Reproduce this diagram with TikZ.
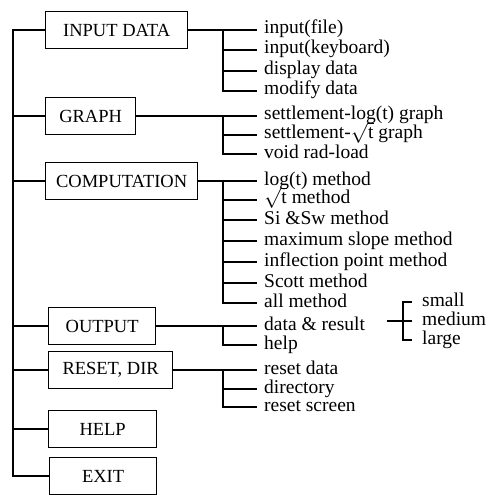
\documentclass[tikz,border=0pt]{standalone}
\usepackage{fontspec}
\setmainfont{Liberation Serif}
\usepackage{tikz}
\tikzstyle{menu} = [draw, line width=1.3pt, minimum height=37pt, anchor=west, inner xsep=0pt]
\tikzstyle{item} = [anchor=west, inner xsep=7pt, inner ysep=0pt, text height=12pt, text depth=4pt, font=\fontsize{19.5}{20}\selectfont]
\tikzstyle{line} = [draw, line width=1.2pt]
\begin{document}
\begin{tikzpicture}[x=1pt, y=-1pt, every node/.style={font=\fontsize{18.5}{20}\selectfont}]
		            \useasboundingbox (0,0) rectangle (496,495);
		                \node [menu, minimum width=142pt] (input) at (45,30) {INPUT DATA};
		                \node [menu, minimum width=90pt] (graph) at (45,116) {GRAPH};
		                \node [menu, minimum width=152pt] (comp) at (45,181) {COMPUTATION};
		                \node [menu, minimum width=107pt] (output) at (48,326) {OUTPUT};
		                \node [menu, minimum width=124pt] (reset) at (48,370) {RESET, DIR};
		                \node [menu, minimum width=108pt] (help) at (48,429) {HELP};
		                \node [menu, minimum width=107pt] (exit) at (49,476) {EXIT};
		                \node [item] (in1) at (257,30) {input(file)};
		                \node [item] (in2) at (257,50) {input(keyboard)};
		                \node [item] (in3) at (257,71) {display data};
		                \node [item] (in4) at (257,91) {modify data};
		                \node [item] (gr1) at (257,116) {settlement-log(t) graph};
		                \node [item] (gr2) at (257,135) {settlement-$\sqrt{\mbox{t}}$ graph};
		                \node [item] (gr3) at (257,154) {void rad-load};
		                \node [item] (co1) at (257,181) {log(t) method};
		                \node [item] (co2) at (257,200) {$\sqrt{\mbox{t}}$ method};
		                \node [item] (co3) at (257,220) {Si \&Sw method};
		                \node [item] (co4) at (257,241) {maximum slope method};
		                \node [item] (co5) at (257,262) {inflection point method};
		                \node [item] (co6) at (257,283) {Scott method};
		                \node [item] (co7) at (257,303) {all method};
		                \node [item] (ou1) at (257,326) {data \& result};
		                \node [item] (ou2) at (257,345) {help};
		                \node [item] (re1) at (257,370) {reset data};
		                \node [item] (re2) at (257,389) {directory};
		                \node [item] (re3) at (257,407) {reset screen};
		                \node [item, inner xsep=10pt] (sm) at (412,302) {small};
		                \node [item, inner xsep=10pt] (md) at (412,321) {medium};
		                \node [item, inner xsep=10pt] (lg) at (412,340) {large};
		                \coordinate (trunk) at (13,0);
		                \coordinate (sub) at (223,0);
		                \coordinate (brk) at (403,321);
		                \path [line] (input.west) -| (trunk |- exit.west) -- (exit.west);
		                \foreach \b in {graph,comp,output,reset,help}
		                    \path [line] (\b.west) -- (trunk |- \b.west);
		                \path [line] (input.east) -- (in1.west);
		                \path [line] (graph.east) -- (gr1.west);
		                \path [line] (comp.east) -- (co1.west);
		                \path [line] (output.east) -- (ou1.west);
		                \path [line] (reset.east) -- (re1.west);
		                \path [line] (sub |- in1.west) |- (in4.west);
		                \path [line] (sub |- gr1.west) |- (gr3.west);
		                \path [line] (sub |- co1.west) |- (co7.west);
		                \path [line] (sub |- ou1.west) |- (ou2.west);
		                \path [line] (sub |- re1.west) |- (re3.west);
		                \foreach \i in {in2,in3,gr2,co2,co3,co4,co5,co6,re2}
		                    \path [line] (sub |- \i.west) -- (\i.west);
		                \path [line] (sm.west) -| (brk) |- (lg.west);
		                \path [line] ([xshift=-16pt]brk) -- (md.west);
		            \end{tikzpicture}
\end{document}
